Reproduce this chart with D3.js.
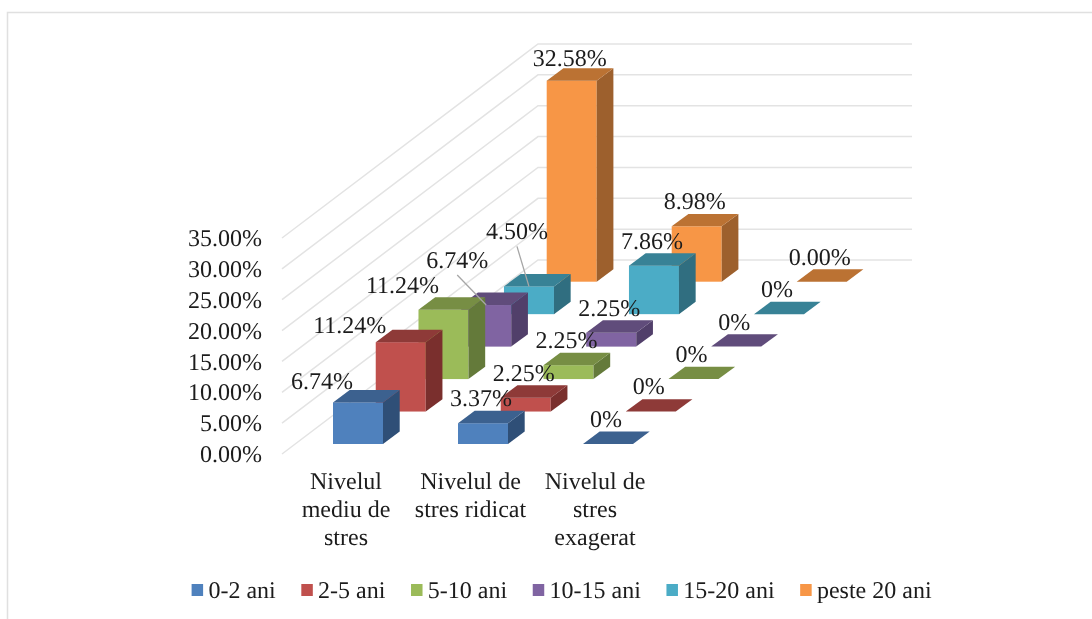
<!DOCTYPE html>
<html>
<head>
<meta charset="utf-8">
<script src="https://cdn.jsdelivr.net/npm/d3@7"></script>
<style>
  html, body { margin: 0; padding: 0; background: #fff; }
  svg { display: block; filter: blur(0.45px); }
  text { font-family: "Liberation Serif", serif; font-size: 24px; fill: #1c1c1c; text-rendering: geometricPrecision; }
</style>
</head>
<body>
<svg id="chart" width="1092" height="619"></svg>
<script>
// chart values
var categories = [["Nivelul", "mediu de", "stres"], ["Nivelul de", "stres ridicat"], ["Nivelul de", "stres", "exagerat"]]
var seriesNames = ["0-2 ani", "2-5 ani", "5-10 ani", "10-15 ani", "15-20 ani", "peste 20 ani"]
var values0 = [6.74, 11.24, 11.24, 6.74, 4.50, 32.58]
var values1 = [3.37, 2.25, 2.25, 2.25, 7.86, 8.98]
var values2 = [0, 0, 0, 0, 0, 0]
var labels0 = ["6.74%", "11.24%", "11.24%", "6.74%", "4.50%", "32.58%"]
var labels1 = ["3.37%", "2.25%", "2.25%", "2.25%", "7.86%", "8.98%"]
var labels2 = ["0%", "0%", "0%", "0%", "0%", "0.00%"]

// colours: front, top, side
var frontColors = ["#4f81bd", "#c0504d", "#9bbb59", "#8064a2", "#4bacc6", "#f79646"]
var topColors = ["#3c618f", "#8e3a38", "#778e44", "#604c7b", "#388296", "#bb7233"]
var sideColors = ["#2f4f77", "#7a2f2d", "#647a3a", "#513f6a", "#306e80", "#9d602d"]

var allValues = [values0, values1, values2]
var allLabels = [labels0, labels1, labels2]

// label nudges in px from the top-front-centre of the bar, the first category is moved by hand
var labelNudge0 = [[-36, -21], [-51, -17], [-41, -25], [-29, -45], [-12, -55], [-2, -23]]
var labelNudgeRest = [-2, -25]

var dimensions = {
  barWidth: 50,
  sideX: 16.7,
  sideY: 12.4,
  wallLeft: 282,
  wallBack: 538,
  wallRight: 912,
  floorFront: 454,
  floorBack: 260
}

var svg = d3.select("#chart")

// frame of the picture: left and top only
svg.append("path")
  .attr("d", "M7.5,619V12.5H1092")
  .attr("fill", "none")
  .attr("stroke", "#e0e0e0")
  .attr("stroke-width", 1.5)

var yScale = d3.scaleLinear().domain([0, 35]).range([0, 216])
var catScale = d3.scaleLinear().domain([0, 2]).range([333, 583])
var catLabelScale = d3.scaleLinear().domain([0, 2]).range([346, 595])
// depth: series goes back and to the right
var depthX = d3.scaleLinear().domain([0, 5]).range([0, 213.7])
var depthY = d3.scaleLinear().domain([0, 5]).range([444, 281.7])

// walls
var wallScale = d3.scaleLinear().domain([0, 35]).range([dimensions.floorBack, dimensions.floorBack - yScale(35)])
var ticks = d3.range(0, 36, 5)
var shift = dimensions.floorFront - dimensions.floorBack

svg.append("g").selectAll("path")
  .data(ticks)
  .enter()
  .append("path")
  .attr("d", d => `M${dimensions.wallLeft},${wallScale(d) + shift}L${dimensions.wallBack},${wallScale(d)}L${dimensions.wallRight},${wallScale(d)}`)
  .attr("fill", "none")
  .attr("stroke", "#e3e3e3")
  .attr("stroke-width", 1.5)

var yAxisgen = d3.axisLeft()
  .scale(d3.scaleLinear().domain([0, 35]).range([dimensions.floorFront, dimensions.floorFront - yScale(35)]))
  .tickValues(ticks)
  .tickSize(0)
  .tickPadding(0)
  .tickFormat(d => d3.format(".2f")(d) + "%")

var yAxis = svg.append("g")
  .call(yAxisgen)
  .attr("transform", "translate(262,0)")
yAxis.select(".domain").remove()

// bars, painted from the back to the front
var bars = []
seriesNames.forEach((name, s) => {
  categories.forEach((cat, c) => {
    bars.push({ s: s, c: c, value: allValues[c][s], label: allLabels[c][s] })
  })
})
bars.sort((a, b) => b.s - a.s || b.c - a.c)

bars.forEach(b => {
  b.x = catScale(b.c) + depthX(b.s)
  b.base = depthY(b.s)
  b.top = b.base - yScale(b.value)
})

var w = dimensions.barWidth, sx = dimensions.sideX, sy = dimensions.sideY

var barGroups = svg.append("g").selectAll("g")
  .data(bars)
  .enter()
  .append("g")

barGroups.append("rect")
  .attr("x", d => d.x)
  .attr("y", d => d.top)
  .attr("width", w)
  .attr("height", d => d.base - d.top)
  .attr("fill", d => frontColors[d.s])

barGroups.append("path")
  .attr("d", d => `M${d.x + w},${d.top}L${d.x + w + sx},${d.top - sy}V${d.base - sy}L${d.x + w},${d.base}Z`)
  .attr("fill", d => sideColors[d.s])

barGroups.append("path")
  .attr("d", d => `M${d.x},${d.top}L${d.x + sx},${d.top - sy}H${d.x + w + sx}L${d.x + w},${d.top}Z`)
  .attr("fill", d => topColors[d.s])

// data labels with leaders for the two that sit far away
bars.forEach(b => {
  var nudge = b.c === 0 ? labelNudge0[b.s] : labelNudgeRest
  b.ax = b.x + w / 2
  b.lx = b.ax + nudge[0]
  b.ly = b.top + nudge[1]
  b.far = nudge[1] < -40
})

svg.append("g").selectAll("line")
  .data(bars.filter(d => d.far))
  .enter()
  .append("line")
  .attr("x1", d => d.lx)
  .attr("y1", d => d.ly + 15)
  .attr("x2", d => d.ax)
  .attr("y2", d => d.top)
  .attr("stroke", "#a6a6a6")
  .attr("stroke-width", 1.3)

svg.append("g").selectAll("text")
  .data(bars)
  .enter()
  .append("text")
  .attr("x", d => d.lx)
  .attr("y", d => d.ly)
  .attr("dy", "0.33em")
  .attr("text-anchor", "middle")
  .text(d => d.label)

// category labels
svg.append("g").selectAll("text")
  .data(categories)
  .enter()
  .append("text")
  .attr("text-anchor", "middle")
  .attr("y", 481)
  .each(function(d, i) {
    d3.select(this).selectAll("tspan")
      .data(d)
      .enter()
      .append("tspan")
      .attr("x", catLabelScale(i))
      .attr("y", (t, j) => 481 + j * 28)
      .attr("dy", "0.33em")
      .text(t => t)
  })

// legend, laid out by text width
var legendX = 191.6
seriesNames.forEach((name, i) => {
  svg.append("rect")
    .attr("x", legendX)
    .attr("y", 584)
    .attr("width", 11.5)
    .attr("height", 12)
    .attr("fill", frontColors[i])
  var t = svg.append("text")
    .attr("x", legendX + 16.8)
    .attr("y", 590)
    .attr("dy", "0.33em")
    .text(name)
  legendX += 16.8 + t.node().getComputedTextLength() + 25.6
})
</script>
</body>
</html>
